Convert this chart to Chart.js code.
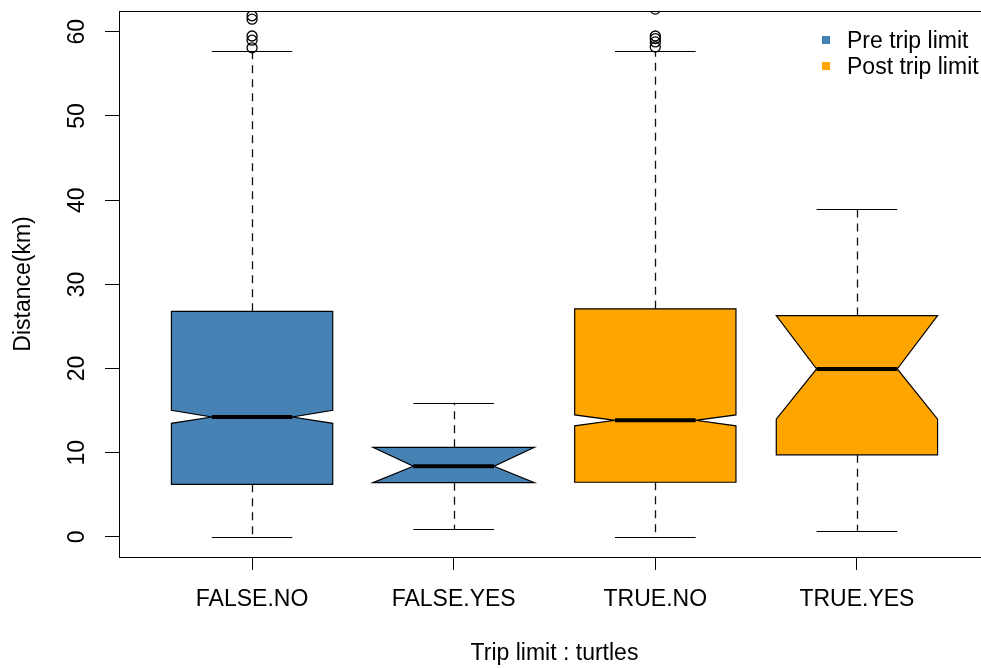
<!DOCTYPE html>
<html>
<head>
<meta charset="utf-8">
<script src="https://cdn.jsdelivr.net/npm/chart.js@4.4.1/dist/chart.umd.min.js"></script>
<style>
  html, body { margin: 0; padding: 0; background: #fff; overflow: hidden; }
  #wrap { position: absolute; left: 0; top: 0; width: 1000px; height: 668px; }
</style>
</head>
<body>
<div id="wrap"><canvas id="boxChart"></canvas></div>
<script>
// Groups (Trip limit : turtles)
const categories = ['FALSE.NO', 'FALSE.YES', 'TRUE.NO', 'TRUE.YES'];

// Box statistics (km)
const whiskerLow  = [0,     0.95,  0,     0.75];
const q1          = [6.25,  6.45,  6.5,   9.75];
const notchLow    = [13.5,  6.45,  13.2,  14.0];
const median      = [14.25, 8.4,   13.85, 19.95];
const notchHigh   = [15.05, 10.65, 14.5,  26.3];
const q3          = [26.8,  10.65, 27.1,  26.3];
const whiskerHigh = [57.7,  15.95, 57.7,  39.0];

// Outliers per group
const outliers = [
    [61.9, 61.5, 59.5, 59.0, 58.1],
    [],
    [62.7, 59.5, 59.2, 58.8, 58.2],
    []
];

const yTicks = [0, 10, 20, 30, 40, 50, 60];
const legendLabels = ['Pre trip limit', 'Post trip limit'];
const legendColors = ['#4682B4', '#FFA500'];
const boxColors = ['#4682B4', '#4682B4', '#FFA500', '#FFA500'];

const FONT = '"Liberation Sans", Arial, Helvetica, sans-serif';
const BOX_HALF = 0.4;

// Puntos atípicos como dataset scatter
const outlierPoints = [];
outliers.forEach((vals, i) => {
    vals.forEach(v => outlierPoints.push({ x: i + 1, y: v }));
});

// Dibuja las cajas con muesca (estilo R)
const notchedBoxPlugin = {
    id: 'notchedBox',
    beforeDatasetsDraw(chart) {
        const { ctx, chartArea: a, scales: { x, y } } = chart;
        ctx.save();
        ctx.beginPath();
        ctx.rect(a.left, a.top, a.right - a.left, a.bottom - a.top);
        ctx.clip();

        categories.forEach((cat, i) => {
            const pos = i + 1;
            const cx = Math.round(x.getPixelForValue(pos)) + 0.5;
            const xl = x.getPixelForValue(pos - BOX_HALF);
            const xr = x.getPixelForValue(pos + BOX_HALF);
            const ml = x.getPixelForValue(pos - BOX_HALF / 2);
            const mr = x.getPixelForValue(pos + BOX_HALF / 2);

            // whiskers
            ctx.strokeStyle = '#111';
            ctx.lineWidth = 1.3;
            ctx.setLineDash([8, 6]);
            ctx.beginPath();
            ctx.moveTo(cx, y.getPixelForValue(q3[i]));
            ctx.lineTo(cx, y.getPixelForValue(whiskerHigh[i]));
            ctx.moveTo(cx, y.getPixelForValue(q1[i]));
            ctx.lineTo(cx, y.getPixelForValue(whiskerLow[i]));
            ctx.stroke();
            ctx.setLineDash([]);

            // staples
            ctx.strokeStyle = '#000';
            ctx.lineWidth = 1.2;
            ctx.beginPath();
            [whiskerHigh[i], whiskerLow[i]].forEach(v => {
                const py = Math.round(y.getPixelForValue(v)) + 0.5;
                ctx.moveTo(ml, py);
                ctx.lineTo(mr, py);
            });
            ctx.stroke();

            // box
            const pts = [
                [xl, q1[i]], [xl, notchLow[i]], [ml, median[i]], [xl, notchHigh[i]], [xl, q3[i]],
                [xr, q3[i]], [xr, notchHigh[i]], [mr, median[i]], [xr, notchLow[i]], [xr, q1[i]]
            ];
            ctx.beginPath();
            pts.forEach(([px, v], k) => {
                const py = y.getPixelForValue(v);
                if (k === 0) ctx.moveTo(px, py); else ctx.lineTo(px, py);
            });
            ctx.closePath();
            ctx.fillStyle = boxColors[i];
            ctx.fill();
            ctx.strokeStyle = '#000';
            ctx.lineWidth = 1.2;
            ctx.stroke();

            // median
            ctx.beginPath();
            ctx.lineWidth = 4;
            ctx.strokeStyle = '#000';
            const my = y.getPixelForValue(median[i]);
            ctx.moveTo(ml, my);
            ctx.lineTo(mr, my);
            ctx.stroke();
        });
        ctx.restore();
    },
    afterDraw(chart) {
        const { ctx, chartArea: a, scales: { x, y } } = chart;
        ctx.save();

        // marco
        ctx.strokeStyle = '#000';
        ctx.lineWidth = 1;
        ctx.strokeRect(Math.round(a.left) + 0.5, Math.round(a.top) + 0.5,
            Math.round(a.right - a.left), Math.round(a.bottom - a.top));

        ctx.fillStyle = '#000';

        // etiquetas eje x
        ctx.font = `23px ${FONT}`;
        ctx.textAlign = 'center';
        ctx.textBaseline = 'alphabetic';
        x.ticks.forEach((t, k) => {
            ctx.fillText(categories[k], x.getPixelForValue(t.value), 606);
        });

        // título eje x
        ctx.fillText('Trip limit : turtles', (a.left + a.right) / 2, 660);

        // etiquetas eje y (rotadas)
        y.ticks.forEach(t => {
            ctx.save();
            ctx.translate(84, y.getPixelForValue(t.value));
            ctx.rotate(-Math.PI / 2);
            ctx.fillText(String(t.value), 0, 0);
            ctx.restore();
        });

        // título eje y
        ctx.save();
        ctx.translate(30, (a.top + a.bottom) / 2);
        ctx.rotate(-Math.PI / 2);
        ctx.fillText('Distance(km)', 0, 0);
        ctx.restore();

        // leyenda
        ctx.textAlign = 'left';
        legendLabels.forEach((lab, k) => {
            const ly = 40 + k * 26;
            ctx.fillStyle = legendColors[k];
            ctx.fillRect(822, ly - 4, 8, 8);
            ctx.fillStyle = '#000';
            ctx.fillText(lab, 847, ly + 8);
        });

        ctx.restore();
    }
};

document.addEventListener('DOMContentLoaded', () => {
    const ctx = document.getElementById('boxChart');
    new Chart(ctx, {
        type: 'scatter',
        data: {
            datasets: [{
                label: 'outliers',
                data: outlierPoints,
                clip: 0,
                pointRadius: 5,
                pointHoverRadius: 5,
                pointBackgroundColor: 'rgba(0,0,0,0)',
                pointBorderColor: '#000',
                pointBorderWidth: 1.3
            }]
        },
        options: {
            responsive: true,
            maintainAspectRatio: false,
            animation: false,
            events: [],
            layout: { padding: { top: 11, right: 10, left: 0, bottom: 0 } },
            plugins: {
                legend: { display: false },
                tooltip: { enabled: false }
            },
            scales: {
                x: {
                    type: 'linear',
                    min: 0.34,
                    max: 4.66,
                    afterBuildTicks: s => { s.ticks = categories.map((c, i) => ({ value: i + 1 })); },
                    afterFit: s => { s.height = 111; },
                    ticks: { display: false },
                    border: { display: false },
                    grid: {
                        drawOnChartArea: false,
                        drawTicks: true,
                        tickLength: 13,
                        tickColor: '#000',
                        lineWidth: 1
                    }
                },
                y: {
                    type: 'linear',
                    min: -2.38,
                    max: 62.47,
                    afterBuildTicks: s => { s.ticks = yTicks.map(v => ({ value: v })); },
                    afterFit: s => { s.width = 119; },
                    ticks: { display: false },
                    border: { display: false },
                    grid: {
                        drawOnChartArea: false,
                        drawTicks: true,
                        tickLength: 14,
                        tickColor: '#000',
                        lineWidth: 1
                    }
                }
            }
        },
        plugins: [notchedBoxPlugin]
    });
});
</script>
</body>
</html>
